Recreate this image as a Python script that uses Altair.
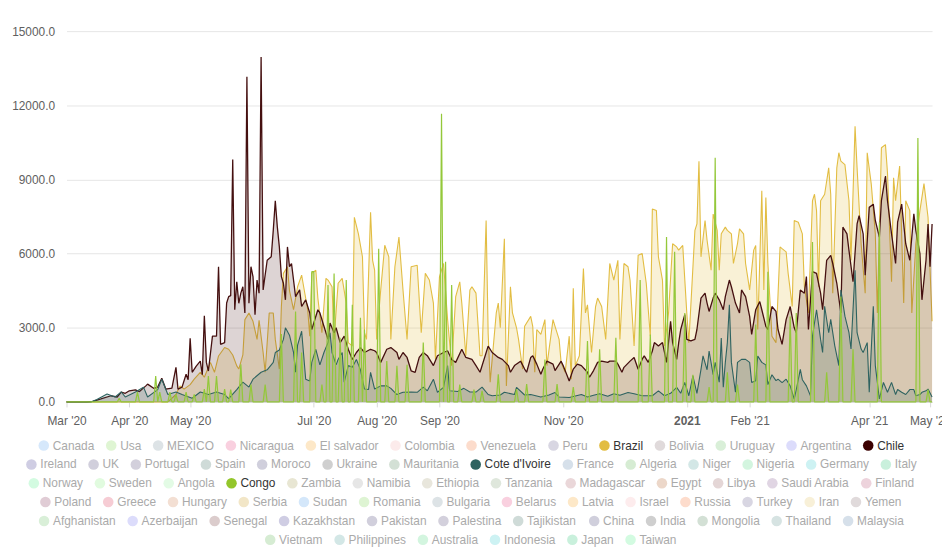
import altair as alt
import pandas as pd

START = pd.Timestamp("2020-03-01")
LAST_DAY = 427  # 2021-05-02

# ---- series data: (days since 2020-03-01, value) ----
brazil = [(0,0),(50,0),(54,300),(56,650),(58,520),(61,700),(63,920),(66,1200),(68,1000),(71,1600),(73,1200),(75,1860),(78,2200),(80,2130),(82,1900),(84,1460),(85,1330),(87,1900),(88,3330),(90,3600),(92,3260),(94,2530),(95,3300),(97,2000),(98,1200),(100,3600),(102,3600),(103,2530),(105,1330),(106,3860),(107,5200),(109,5470),(110,4500),(112,3730),(114,4660),(116,5130),(117,4660),(119,3730),(120,2660),(121,5200),(123,5330),(124,4200),(126,2800),(128,5000),(129,4930),(131,4660),(132,2530),(134,4800),(136,5000),(138,4000),(139,2400),(141,2260),(142,7470),(144,6800),(146,5870),(147,2800),(148,2530),(150,7670),(151,5730),(152,5330),(153,2530),(155,4530),(157,6340),(159,5870),(160,2530),(162,5470),(164,6670),(166,4530),(168,2530),(170,5470),(173,5530),(175,2800),(177,5200),(179,4930),(181,4000),(182,1720),(184,5070),(186,5600),(188,3330),(190,1470),(192,4260),(194,4860),(195,4000),(197,1870),(199,4530),(200,4660),(202,4400),(204,1870),(205,1870),(207,7340),(208,2800),(209,800),(212,3600),(213,4000),(214,3000),(216,6600),(217,650),(219,4660),(220,3600),(222,3000),(223,2530),(225,1330),(226,3060),(229,3460),(230,3060),(231,1200),(232,2930),(234,2730),(236,3330),(237,1470),(240,3330),(241,3060),(243,2530),(244,1600),(246,1200),(248,2660),(249,920),(250,4600),(251,1470),(253,1870),(255,5400),(256,3600),(257,3930),(259,2000),(261,3860),(262,4200),(264,3860),(266,2530),(268,5600),(270,4930),(272,5730),(273,2530),(275,5600),(277,5470),(278,4930),(280,2260),(282,5930),(284,6000),(286,4800),(288,2660),(289,7800),(291,7740),(292,5870),(294,4930),(295,2260),(297,3600),(299,6400),(301,6270),(302,6140),(304,6330),(306,3600),(307,2400),(310,6940),(311,7200),(312,9740),(313,5870),(315,7340),(316,6540),(318,5330),(319,7600),(321,6940),(322,5330),(323,6800),(325,7070),(326,6940),(328,6800),(329,5600),(331,6400),(332,7000),(334,6800),(335,5600),(337,4530),(339,6140),(340,6330),(341,2930),(343,8540),(344,4530),(345,8270),(346,5600),(348,2660),(350,2400),(352,6270),(353,6200),(355,6070),(356,5200),(358,3860),(359,7340),(361,7270),(363,6800),(364,4660),(366,3600),(368,8140),(369,8400),(370,7740),(371,4660),(372,8140),(374,8400),(376,9470),(377,8400),(378,4400),(380,9470),(381,10080),(382,9740),(384,9600),(386,8140),(387,5730),(389,11150),(390,9470),(392,6400),(394,4400),(395,10080),(397,8810),(399,6800),(400,3600),(402,10280),(404,10410),(405,9270),(407,4860),(408,9070),(409,8140),(411,9540),(413,4000),(414,8140),(416,7740),(417,3600),(419,6400),(421,7740),(423,8830),(425,7470),(427,3260)]

chile = [(0,0),(10,0),(13,20),(17,120),(22,250),(25,200),(27,400),(29,350),(31,450),(34,490),(36,420),(39,640),(40,720),(43,550),(45,600),(47,960),(49,520),(52,560),(54,1400),(55,520),(57,600),(59,1120),(60,900),(61,2570),(62,1200),(64,1450),(66,1650),(67,1100),(68,3490),(69,1600),(70,1250),(72,2660),(74,2660),(75,5470),(76,2330),(78,2400),(79,4000),(80,4260),(81,4300),(82,9810),(83,3730),(84,4860),(85,3990),(86,4400),(87,4660),(88,3600),(89,13150),(90,3990),(91,5470),(92,5070),(93,3530),(94,4930),(95,4400),(96,13950),(97,4530),(99,5730),(101,5870),(102,6940),(103,8140),(104,7080),(105,6270),(106,5070),(107,4800),(108,4130),(109,6270),(110,5470),(111,5600),(113,4260),(115,4530),(116,3860),(118,4130),(120,3600),(121,2930),(124,3730),(125,3600),(127,3060),(129,2530),(130,3190),(132,2800),(133,3000),(135,2400),(137,2660),(139,2130),(141,1720),(143,2000),(145,2200),(147,2000),(150,2130),(152,2070),(153,2000),(155,1600),(158,2130),(160,2200),(163,2000),(164,1720),(166,2000),(168,1800),(170,1260),(172,1200),(174,1800),(176,2000),(178,1870),(181,1470),(183,1870),(186,2000),(188,2070),(190,1720),(192,1600),(195,2130),(197,1800),(200,1720),(202,1470),(204,1200),(208,2260),(210,2000),(213,1800),(215,1720),(218,1470),(219,1200),(221,1470),(224,1650),(226,1330),(227,1200),(229,1800),(230,1870),(232,1530),(234,1120),(235,1330),(237,1650),(240,1530),(241,1270),(244,1650),(245,1470),(247,1060),(248,850),(250,1330),(252,1530),(254,1470),(257,1200),(258,1000),(260,1270),(262,1600),(264,1650),(267,1600),(268,1650),(271,1650),(272,1530),(274,1200),(275,1400),(278,1650),(280,1800),(282,1320),(284,1730),(285,1860),(287,1600),(289,2060),(290,2400),(292,2260),(294,2400),(295,2000),(296,1600),(298,3260),(299,2400),(301,1720),(302,2400),(303,2930),(305,3530),(306,2530),(308,2470),(310,2530),(311,2930),(313,4200),(315,4400),(316,4000),(317,3660),(319,4200),(320,4400),(322,4130),(324,3730),(325,4260),(327,4930),(328,4660),(330,4000),(332,3600),(333,4530),(335,4260),(337,3460),(338,2730),(340,3730),(342,4060),(343,3730),(345,3060),(346,2930),(348,3860),(350,3660),(351,2930),(353,2330),(355,3330),(357,3860),(359,3000),(360,2800),(362,4530),(364,4400),(365,5070),(366,2930),(368,5270),(370,5200),(372,4400),(373,3730),(375,5730),(377,5930),(378,5600),(380,4800),(382,3600),(383,7070),(385,6800),(386,6130),(388,4860),(390,7200),(391,7540),(393,6800),(394,5130),(396,7870),(398,8000),(399,7340),(401,6670),(402,8140),(404,9140),(405,8140),(407,6800),(409,5600),(410,7270),(412,8000),(413,7200),(414,6400),(416,5730),(418,7610),(419,6930),(421,6000),(422,4130),(424,5730),(425,7200),(426,5470),(427,7200)]

cote = [(0,0),(12,0),(15,100),(20,320),(24,200),(27,410),(29,200),(34,400),(38,600),(40,200),(45,500),(47,920),(50,300),(54,400),(57,300),(62,150),(66,400),(70,300),(74,400),(78,300),(80,130),(84,500),(87,800),(90,600),(92,920),(96,1200),(99,1300),(102,1600),(103,2000),(105,2100),(107,2530),(108,3000),(110,2700),(112,2000),(113,1200),(114,2300),(116,2860),(118,920),(120,850),(121,1600),(123,2130),(125,1500),(127,2000),(129,2400),(130,2800),(131,2000),(133,1500),(134,1720),(136,2000),(137,800),(139,1470),(141,1400),(143,1720),(145,1300),(147,520),(149,500),(150,1200),(152,520),(155,650),(158,650),(160,550),(163,300),(166,390),(170,400),(173,390),(176,600),(178,450),(181,920),(183,390),(186,590),(188,1470),(189,450),(193,420),(196,550),(199,400),(202,400),(205,600),(208,300),(210,250),(214,280),(216,390),(221,300),(222,590),(226,280),(229,300),(234,200),(238,280),(241,380),(243,200),(248,180),(254,300),(257,200),(260,270),(263,330),(267,230),(270,330),(273,270),(277,380),(280,330),(284,250),(289,250),(292,450),(295,250),(298,350),(301,590),(303,350),(305,790),(307,250),(309,1050),(311,350),(313,1320),(314,1860),(316,1300),(317,2060),(319,1100),(320,1600),(322,800),(323,2590),(324,600),(325,1600),(326,2400),(327,3930),(328,1600),(330,390),(331,1600),(333,1720),(335,1720),(337,1600),(338,790),(340,860),(341,1860),(343,1600),(345,1500),(346,700),(348,1100),(350,860),(351,920),(353,780),(355,920),(357,650),(359,120),(360,500),(362,1320),(363,900),(365,650),(367,250),(368,2660),(370,3730),(372,2530),(373,2000),(374,3870),(376,2800),(377,3340),(379,2270),(381,1470),(382,4530),(384,3470),(386,2800),(387,2140),(389,5330),(390,2800),(392,2140),(393,2000),(395,2400),(396,390),(398,3870),(399,1470),(401,120),(403,790),(405,390),(407,790),(409,300),(410,500),(412,390),(414,300),(416,500),(418,500),(419,250),(421,300),(422,390),(424,450),(425,520),(427,200)]

# Congo reports on isolated days; every other day reads 0
congo_spikes = [(26,150),(35,400),(44,1050),(46,400),(51,400),(54,300),(59,400),(63,300),(68,520),(70,1050),(74,1050),(78,520),(81,500),(86,1520),(91,700),(98,700),(106,2750),(113,3660),(116,2000),(121,5270),(122,5270),(126,700),(129,4730),(132,5200),(135,2600),(138,4930),(141,3930),(145,3400),(147,2930),(154,6200),(158,1650),(163,1460),(168,1500),(176,2400),(185,11660),(187,5670),(190,4730),(194,700),(201,500),(205,450),(213,1120),(222,520),(227,720),(236,1720),(242,720),(250,600),(257,2460),(263,2130),(271,2600),(283,4930),(288,2730),(296,6670),(300,6070),(305,3600),(309,1100),(317,600),(320,9880),(326,1200),(331,700),(340,3130),(346,5270),(357,3460),(360,3600),(368,6470),(375,1200),(382,4260),(388,2130),(401,7270),(420,10680),(425,500)]

series_names = ["Brazil", "Chile", "Cote d'Ivoire", "Congo"]
series_colors = ["#e2bd43", "#451010", "#2e6360", "#94c83a"]
series_fill_opacity = [0.22, 0.18, 0.18, 0.2]
series_line_width = [1.1, 1.3, 1.1, 1.2]

# ---- legend entries (rows as laid out in the picture) ----
legend_rows = [
    ["Canada", "Usa", "MEXICO", "Nicaragua", "El salvador", "Colombia", "Venezuela", "Peru", "Brazil", "Bolivia", "Uruguay", "Argentina", "Chile"],
    ["Ireland", "UK", "Portugal", "Spain", "Moroco", "Ukraine", "Mauritania", "Cote d'Ivoire", "France", "Algeria", "Niger", "Nigeria", "Germany", "Italy"],
    ["Norway", "Sweden", "Angola", "Congo", "Zambia", "Namibia", "Ethiopia", "Tanzania", "Madagascar", "Egypt", "Libya", "Saudi Arabia", "Finland"],
    ["Poland", "Greece", "Hungary", "Serbia", "Sudan", "Romania", "Bulgaria", "Belarus", "Latvia", "Israel", "Russia", "Turkey", "Iran", "Yemen"],
    ["Afghanistan", "Azerbaijan", "Senegal", "Kazakhstan", "Pakistan", "Palestina", "Tajikistan", "China", "India", "Mongolia", "Thailand", "Malaysia"],
    ["Vietnam", "Philippines", "Australia", "Indonesia", "Japan", "Taiwan"],
]
legend_colors = {
    "Canada": "#d6e8fb", "Usa": "#dff5d3", "MEXICO": "#dde3e6", "Nicaragua": "#f9d0df", "El salvador": "#fde8c8",
    "Colombia": "#fcebeb", "Venezuela": "#fcdccc", "Peru": "#d8d6e2", "Brazil": "#e2bd43", "Bolivia": "#e0dadb",
    "Uruguay": "#d9efd8", "Argentina": "#dcdcfb", "Chile": "#3b0000",
    "Ireland": "#cfcde3", "UK": "#d1cfdc", "Portugal": "#d3d0dc", "Spain": "#cfdbd8", "Moroco": "#d0cfdc",
    "Ukraine": "#cfcfcf", "Mauritania": "#d3e0d5", "Cote d'Ivoire": "#2e6360", "France": "#d6e0ea",
    "Algeria": "#d6ecd3", "Niger": "#d3e7e6", "Nigeria": "#d3f5df", "Germany": "#cdf2f3", "Italy": "#c9f0dc",
    "Norway": "#d3fbe1", "Sweden": "#e1fbdf", "Angola": "#e3fbe5", "Congo": "#93c62b", "Zambia": "#e8e6d3",
    "Namibia": "#e6e6e6", "Ethiopia": "#e8e6dc", "Tanzania": "#dfe7dc", "Madagascar": "#ead7d9", "Egypt": "#ecd7c9",
    "Libya": "#e4d6d6", "Saudi Arabia": "#e0d5e3", "Finland": "#edd3dc",
    "Poland": "#e0ccd5", "Greece": "#f6ccd4", "Hungary": "#f3dfd3", "Serbia": "#f2e6c7", "Sudan": "#d4e7fa",
    "Romania": "#def4d3", "Bulgaria": "#dde3e6", "Belarus": "#f9d0df", "Latvia": "#fde8c8", "Israel": "#fdeced",
    "Russia": "#fddccc", "Turkey": "#d8d6e2", "Iran": "#f8f0d8", "Yemen": "#e0dadb",
    "Afghanistan": "#d9efd8", "Azerbaijan": "#dcdcfb", "Senegal": "#dbcccc", "Kazakhstan": "#cfcde3",
    "Pakistan": "#d1cfdc", "Palestina": "#d3d0dc", "Tajikistan": "#cfdbd8", "China": "#d0cfdc", "India": "#cfcfcf",
    "Mongolia": "#d3e0d5", "Thailand": "#d6e3e2", "Malaysia": "#d6e0ea",
    "Vietnam": "#d6ecd3", "Philippines": "#d3e7e6", "Australia": "#d3f5df", "Indonesia": "#cdf2f3",
    "Japan": "#c9f0dc", "Taiwan": "#d3fbe1",
}

# ---- build the long table ----
def frame(name, pairs):
    days = [p[0] for p in pairs]
    vals = [p[1] for p in pairs]
    return pd.DataFrame({"date": START + pd.to_timedelta(days, unit="D"), "country": name, "value": vals})

congo_map = dict(congo_spikes)
congo = [(d, congo_map.get(d, 0)) for d in range(LAST_DAY + 1)]
df = pd.concat([frame("Brazil", brazil), frame("Chile", chile),
                frame("Cote d'Ivoire", cote), frame("Congo", congo)], ignore_index=True)

# ---- legend layout (flow rows centred on the 950px canvas, Arial-like metrics) ----
_up = dict(zip("ABCDEFGHIJKLMNOPQRSTUVWXYZ",
               [667,667,722,722,667,611,778,722,278,500,667,556,833,722,778,667,778,722,667,611,722,667,944,667,667,611]))
_lo = dict(zip("abcdefghijklmnopqrstuvwxyz",
               [556,556,500,556,556,278,556,556,222,222,500,222,833,556,556,556,556,333,500,278,556,500,722,500,500,500]))
_cw = {**_up, **_lo, " ": 278, "'": 191}
def text_w(s):
    return sum(_cw.get(c, 556) for c in s) * 12 / 1000.0

CANVAS_CENTER = 475
SYM, SYM_GAP, ITEM_GAP = 12, 3, 11
ROW0, ROW_STEP = 447, 19
active = set(series_names)
leg = []
for r, names in enumerate(legend_rows):
    ws = [text_w(n) for n in names]
    total = sum(SYM + SYM_GAP + w for w in ws) + ITEM_GAP * (len(names) - 1)
    x = CANVAS_CENTER - total / 2
    for n, w in zip(names, ws):
        leg.append({"name": n, "cx": x + SYM / 2, "tx": x + SYM + SYM_GAP, "ly": ROW0 + ROW_STEP * r,
                    "pcol": legend_colors[n], "tcol": "#333333" if n in active else "#aaaaaa"})
        x += SYM + SYM_GAP + w + ITEM_GAP
leg_df = pd.DataFrame(leg)

# ---- chart geometry ----
PLOT_L, PLOT_T, PLOT_W, PLOT_H = 67, 29, 873, 374
FONT = "Liberation Sans, Arial, sans-serif"

tick_dates = [alt.DateTime(year=2020, month=m, date=1) for m in (3, 4, 5, 7, 8, 9, 11)] + \
             [alt.DateTime(year=2021, month=m, date=1) for m in (1, 2, 4, 5)]

x_enc = alt.X(
    "date:T", title=None,
    scale=alt.Scale(domain=[alt.DateTime(year=2020, month=3, date=1), alt.DateTime(year=2021, month=5, date=2)]),
    axis=alt.Axis(
        values=tick_dates,
        labelExpr="month(datum.value) == 0 ? timeFormat(datum.value, '%Y') : timeFormat(datum.value, \"%b '%y\")",
        labelFontWeight={"condition": {"test": "month(datum.value) == 0", "value": "bold"}, "value": "normal"},
        grid=False, domainColor="#d9d9d9", tickColor="#d9d9d9", tickSize=5, labelPadding=9,
        labelColor="#606060", labelFontSize=12, labelFont=FONT, labelFlush=False, labelOverlap=False, labelAngle=0,
    ),
)
y_enc = alt.Y(
    "value:Q", stack=None, title=None,
    scale=alt.Scale(domain=[0, 15000], nice=False),
    axis=alt.Axis(values=[0, 3000, 6000, 9000, 12000, 15000], format=".1f", domain=False, ticks=False,
                  gridColor="#e6e6e6", gridWidth=1, labelColor="#606060", labelFontSize=12, labelFont=FONT,
                  labelPadding=12),
)

layers = []
for name, col, fo, lw in zip(series_names, series_colors, series_fill_opacity, series_line_width):
    base = alt.Chart(df).transform_filter(alt.FieldEqualPredicate(field="country", equal=name))
    layers.append(base.mark_area(color=col, fillOpacity=fo).encode(x=x_enc, y=y_enc))
    layers.append(base.mark_line(color=col, strokeWidth=lw, strokeJoin="bevel").encode(x=x_enc, y=y_enc))
series = alt.layer(*layers)

# legend drawn in canvas pixel units through linear scales mapped onto the plot frame
lx_scale = alt.Scale(domain=[PLOT_L, PLOT_L + PLOT_W], range=[0, PLOT_W], nice=False, zero=False)
ly_scale = alt.Scale(domain=[PLOT_T, PLOT_T + PLOT_H], range=[0, PLOT_H], nice=False, zero=False)
leg_base = alt.Chart(leg_df)
leg_pts = leg_base.mark_circle(size=113, opacity=1).encode(
    x=alt.X("cx:Q", scale=lx_scale, axis=None),
    y=alt.Y("ly:Q", scale=ly_scale, axis=None),
    color=alt.Color("pcol:N", scale=None),
)
leg_txt = leg_base.mark_text(align="left", baseline="middle", fontSize=12, font=FONT).encode(
    x=alt.X("tx:Q", scale=lx_scale, axis=None),
    y=alt.Y("ly:Q", scale=ly_scale, axis=None),
    text="name:N",
    color=alt.Color("tcol:N", scale=None),
)
legend = alt.layer(leg_pts, leg_txt)

chart = (
    alt.layer(series, legend)
    .resolve_scale(x="independent", y="independent", color="independent")
    .properties(
        width=PLOT_W, height=PLOT_H,
        padding={"left": PLOT_L - 8, "top": PLOT_T - 8, "right": 10, "bottom": 145},
        autosize=alt.AutoSizeParams(type="none"),
    )
    .configure(font=FONT)
    .configure_view(strokeWidth=0)
)

chart.save("out.html", embed_options={"renderer": "svg", "actions": False})
